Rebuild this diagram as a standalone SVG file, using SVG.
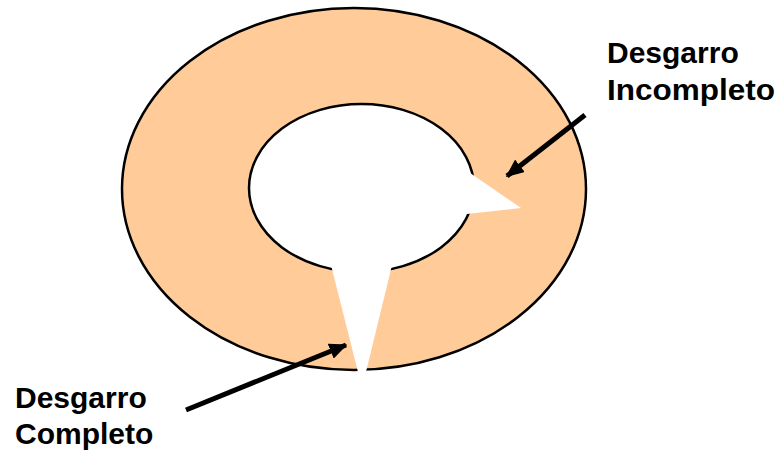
<svg xmlns="http://www.w3.org/2000/svg" width="781" height="455" viewBox="0 0 781 455">
<defs>
<style>
.ring{fill:#FFCC99;stroke:#000;stroke-width:2.5}
.hole{fill:#fff;stroke:#000;stroke-width:2.5}
.tear{fill:#fff;stroke:none}
.arr{stroke:#000;stroke-width:5;fill:none}
.lbl{font-family:"Liberation Sans",Arial,sans-serif;font-weight:bold;font-size:30px;fill:#000}
</style>
<marker id="ah" markerWidth="3.6" markerHeight="3.2" refX="3.3" refY="1.6" orient="auto" markerUnits="strokeWidth">
<path d="M0,0 L3.6,1.6 L0,3.2 Z" fill="#000"/>
</marker>
</defs>
<rect width="781" height="455" fill="#fff"/>
<g id="disc">
<ellipse class="ring" cx="354" cy="189" rx="232" ry="181"/>
<ellipse class="hole" cx="361.5" cy="188" rx="112.5" ry="84"/>
</g>
<g id="tear-incomplete">
<polygon class="tear" points="460,166 521,208 458,215"/>
</g>
<g id="tear-complete">
<polygon class="tear" points="330,261 393,261 365,376 359,376"/>
</g>
<g id="connectors">
<line class="arr" x1="186" y1="410" x2="346" y2="345" marker-end="url(#ah)"/>
<line class="arr" x1="585" y1="115" x2="507" y2="176" marker-end="url(#ah)"/>
</g>
<g id="label-incomplete">
<text class="lbl" x="607" y="63">Desgarro</text>
<text class="lbl" x="607" y="100" textLength="168" lengthAdjust="spacingAndGlyphs">Incompleto</text>
</g>
<g id="label-complete">
<text class="lbl" x="15" y="408">Desgarro</text>
<text class="lbl" x="15" y="444">Completo</text>
</g>
</svg>
